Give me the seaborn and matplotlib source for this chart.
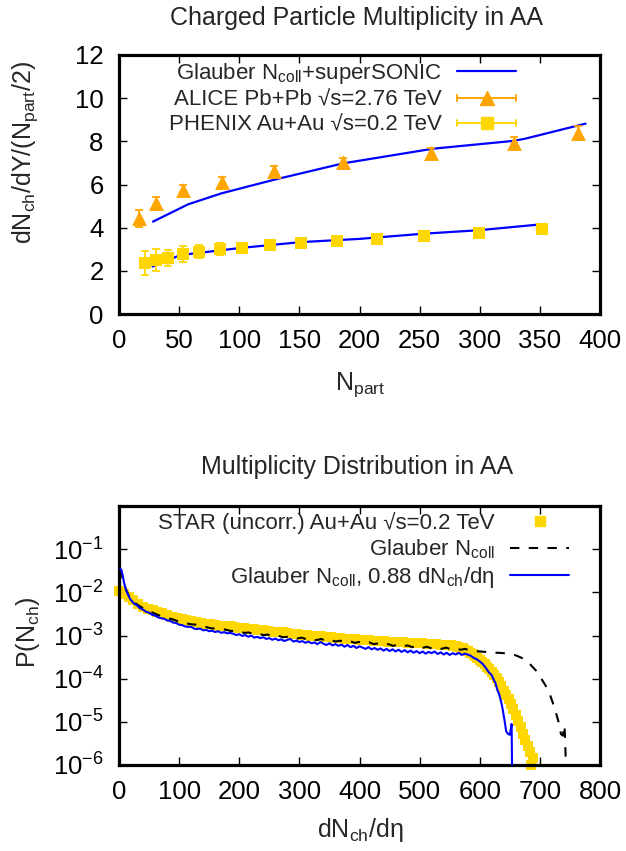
import numpy as np
import matplotlib
matplotlib.use("Agg")
import matplotlib.pyplot as plt
import seaborn as sns
from matplotlib.lines import Line2D
from matplotlib.legend_handler import HandlerBase
from matplotlib.ticker import FixedLocator, NullLocator, LogFormatterMathtext

# ---------------- data: top panel ----------------
ALICE_NPART = [16.4, 30.5, 53.3, 85.7, 128.7, 186.4, 259.4, 328.4, 381.4]
ALICE_Y = [4.43, 5.13, 5.75, 6.13, 6.63, 7.03, 7.44, 7.91, 8.40]
ALICE_ERR = [0.40, 0.30, 0.25, 0.22, 0.22, 0.22, 0.25, 0.28, 0.30]

PHENIX_NPART = [21.9, 31.0, 40.6, 53.0, 66.7, 84.0, 102.7, 125.5, 151.3, 181.0, 214.2, 253.5, 299.0, 351.5]
PHENIX_Y = [2.36, 2.50, 2.60, 2.76, 2.89, 3.00, 3.07, 3.19, 3.27, 3.39, 3.49, 3.61, 3.77, 3.92]
PHENIX_ERR = [0.54, 0.50, 0.38, 0.37, 0.30, 0.27, 0.22, 0.20, 0.20, 0.20, 0.20, 0.20, 0.20, 0.20]

MODEL_LHC_NPART = [28.3, 57.4, 85.2, 128.2, 186.4, 261.3, 327.9, 337.6, 388.0]
MODEL_LHC_Y = [4.28, 5.08, 5.59, 6.21, 6.98, 7.66, 8.02, 8.12, 8.82]

MODEL_RHIC_NPART = [28.0, 51.0, 101.0, 151.0, 200.0, 253.0, 299.0, 354.0]
MODEL_RHIC_Y = [2.20, 2.73, 3.06, 3.33, 3.48, 3.72, 3.88, 4.17]

# ---------------- data: bottom panel (log10 of P) ----------------
STAR_X = [0, 8, 16, 24, 32, 40, 48, 56, 64, 72, 80, 88, 96, 104, 112, 120, 128, 136, 144,
          152, 160, 168, 176, 184, 192, 200, 208, 216, 224, 232, 240, 248, 256, 264, 272,
          280, 288, 296, 304, 312, 320, 328, 336, 344, 352, 360, 368, 376, 384, 392, 400,
          408, 416, 424, 432, 440, 448, 456, 464, 472, 480, 488, 496, 504, 512, 520, 528,
          536, 544, 552, 556, 560, 564, 568, 572, 576, 580, 584, 588, 592, 596, 600, 604,
          608, 612, 616, 620, 624, 628, 632, 636, 640, 644, 648, 652, 656, 660, 664, 668,
          672, 676, 680, 684, 688, 686]
STAR_LOGP = [-1.98, -2.05, -2.10, -2.18, -2.26, -2.33, -2.38, -2.42, -2.46, -2.49, -2.52,
             -2.56, -2.59, -2.62, -2.65, -2.67, -2.69, -2.71, -2.73, -2.74, -2.75, -2.77,
             -2.78, -2.79, -2.81, -2.82, -2.83, -2.85, -2.86, -2.87, -2.88, -2.89, -2.91,
             -2.92, -2.93, -2.95, -2.96, -2.97, -2.98, -2.99, -3.00, -3.01, -3.02, -3.03,
             -3.04, -3.05, -3.06, -3.07, -3.08, -3.09, -3.10, -3.11, -3.11, -3.12, -3.13,
             -3.13, -3.14, -3.15, -3.15, -3.16, -3.17, -3.17, -3.18, -3.18, -3.19, -3.19,
             -3.20, -3.21, -3.22, -3.23, -3.24, -3.25, -3.26, -3.28, -3.30, -3.33, -3.36,
             -3.40, -3.43, -3.47, -3.51, -3.56, -3.61, -3.66, -3.72, -3.78, -3.84, -3.91,
             -3.99, -4.08, -4.18, -4.28, -4.38, -4.48, -4.59, -4.71, -4.84, -4.98, -5.13,
             -5.28, -5.42, -5.55, -5.69, -5.84, -6.00]

GLAUBER_X = [2, 5, 8, 12, 16, 20, 26, 32, 40, 48, 56, 64, 72, 80, 88, 96, 104, 112, 120, 128,
             136, 144, 152, 160, 168, 176, 184, 192, 200, 208, 216, 224, 232, 240, 248, 256,
             264, 272, 280, 288, 296, 304, 312, 320, 328, 336, 344, 352, 360, 368, 376, 384,
             392, 400, 408, 416, 424, 432, 440, 448, 456, 464, 472, 480, 488, 496, 504, 512,
             520, 528, 536, 544, 552, 560, 568, 576, 584, 592, 600, 610, 620, 630, 640, 650,
             660, 670, 678, 686, 694, 700, 706, 712, 718, 724, 728, 732, 735, 738, 741, 743]
GLAUBER_LOGP = [-1.47, -1.62, -1.78, -1.95, -2.07, -2.16, -2.24, -2.30, -2.37, -2.43, -2.47,
                -2.52, -2.56, -2.60, -2.62, -2.66, -2.69, -2.72, -2.74, -2.75, -2.79, -2.80,
                -2.83, -2.84, -2.86, -2.86, -2.89, -2.90, -2.90, -2.94, -2.93, -2.97, -2.96,
                -2.99, -2.98, -3.02, -3.00, -3.04, -3.03, -3.02, -3.07, -3.05, -3.09, -3.07,
                -3.11, -3.08, -3.12, -3.10, -3.14, -3.12, -3.15, -3.13, -3.17, -3.15, -3.19,
                -3.16, -3.20, -3.18, -3.22, -3.20, -3.24, -3.21, -3.25, -3.23, -3.27, -3.24,
                -3.29, -3.26, -3.30, -3.27, -3.31, -3.28, -3.32, -3.30, -3.33, -3.31, -3.35,
                -3.36, -3.37, -3.38, -3.40, -3.40, -3.41, -3.43, -3.46, -3.52, -3.58, -3.70,
                -3.82, -3.95, -4.08, -4.22, -4.42, -4.66, -4.85, -5.05, -5.28, -5.32, -5.08,
                -5.85]

SCALED_X = [2, 4, 6, 8, 10, 12, 14, 16, 18, 20, 25, 30, 35, 40, 45, 50, 55, 60, 65, 70, 75,
            80, 85, 90, 95, 100, 105, 110, 115, 120, 125, 130, 135, 140, 145, 150, 155, 160,
            165, 170, 175, 180, 185, 190, 195, 200, 205, 210, 215, 220, 225, 230, 235, 240,
            245, 250, 255, 260, 265, 270, 275, 280, 285, 290, 295, 300, 305, 310, 315, 320,
            325, 330, 335, 340, 345, 350, 355, 360, 365, 370, 375, 380, 385, 390, 395, 400,
            405, 410, 415, 420, 425, 430, 435, 440, 445, 450, 455, 460, 465, 470, 475, 480,
            485, 490, 495, 500, 505, 510, 515, 520, 525, 530, 535, 540, 545, 550, 555, 560,
            565, 570, 575, 580, 585, 590, 595, 600, 605, 610, 615, 620, 623, 626, 629, 632,
            635, 638, 641, 644, 647, 650, 653, 654]
SCALED_LOGP = [-1.45, -1.48, -1.60, -1.75, -1.86, -1.95, -2.02, -2.08, -2.14, -2.18, -2.26,
               -2.30, -2.37, -2.40, -2.45, -2.47, -2.52, -2.54, -2.58, -2.60, -2.61, -2.65,
               -2.66, -2.70, -2.71, -2.75, -2.76, -2.79, -2.80, -2.80, -2.84, -2.85, -2.84,
               -2.88, -2.87, -2.90, -2.89, -2.92, -2.90, -2.94, -2.92, -2.95, -2.94, -2.96,
               -2.99, -2.97, -3.01, -2.99, -3.03, -3.00, -3.05, -3.03, -3.06, -3.04, -3.08,
               -3.06, -3.10, -3.07, -3.11, -3.09, -3.13, -3.10, -3.08, -3.14, -3.12, -3.15,
               -3.13, -3.17, -3.14, -3.18, -3.16, -3.20, -3.15, -3.19, -3.22, -3.18, -3.23,
               -3.20, -3.24, -3.21, -3.26, -3.22, -3.27, -3.24, -3.29, -3.25, -3.28, -3.31,
               -3.27, -3.32, -3.29, -3.33, -3.30, -3.35, -3.31, -3.36, -3.32, -3.37, -3.33,
               -3.38, -3.34, -3.39, -3.35, -3.40, -3.36, -3.41, -3.37, -3.42, -3.38, -3.41,
               -3.37, -3.43, -3.39, -3.44, -3.40, -3.45, -3.41, -3.44, -3.40, -3.45, -3.42,
               -3.44, -3.47, -3.52, -3.55, -3.60, -3.66, -3.75, -3.85, -3.92, -4.02, -4.10,
               -4.25, -4.35, -4.50, -4.70, -4.95, -5.22, -5.28, -5.30, -5.05, -6.50]

# ---------------- styling ----------------
BLUE = "#0000ff"
ORANGE = "#ffa500"
GOLD = "#ffd700"

sns.set_style("ticks")
plt.rcParams["font.family"] = ["Liberation Sans", "DejaVu Sans"]
plt.rcParams["mathtext.fontset"] = "custom"
plt.rcParams["mathtext.rm"] = "Liberation Sans"
plt.rcParams["mathtext.it"] = "Liberation Sans:italic"
plt.rcParams["mathtext.bf"] = "Liberation Sans:bold"
plt.rcParams["axes.unicode_minus"] = True

W, H = 626, 851
fig = plt.figure(figsize=(W / 100, H / 100), dpi=100)
ax1 = fig.add_axes([119 / W, 1 - 314 / H, 481 / W, 259 / H])
ax2 = fig.add_axes([119 / W, 1 - 765 / H, 481 / W, 259 / H])

TICK_FS = 18.5
LEG_FS = 16
LAB_FS = 18


class ErrProxy:
    def __init__(self, color, marker, ms):
        self.color = color
        self.marker = marker
        self.ms = ms


class GnuErrHandler(HandlerBase):
    def create_artists(self, legend, orig_handle, xdescent, ydescent, width, height,
                       fontsize, trans):
        y = height / 2 - ydescent
        x0, x1 = -xdescent, width - xdescent
        c = orig_handle.color
        arts = [
            Line2D([x0, x1], [y, y], color=c, lw=1.4),
            Line2D([x0, x0], [y - 2.0, y + 2.0], color=c, lw=1.4),
            Line2D([x1, x1], [y - 2.0, y + 2.0], color=c, lw=1.4),
            Line2D([(x0 + x1) / 2], [y], marker=orig_handle.marker, ms=orig_handle.ms,
                   color=c, mec=c, ls="none"),
        ]
        for a in arts:
            a.set_transform(trans)
        return arts


# ---------------- top panel ----------------
sns.lineplot(x=MODEL_LHC_NPART, y=MODEL_LHC_Y, ax=ax1, color=BLUE, lw=1.6,
             sort=False, estimator=None, legend=False)
sns.lineplot(x=MODEL_RHIC_NPART, y=MODEL_RHIC_Y, ax=ax1, color=BLUE, lw=1.6,
             sort=False, estimator=None, legend=False)
ax1.errorbar(ALICE_NPART, ALICE_Y, yerr=ALICE_ERR, fmt="none", ecolor=ORANGE,
             elinewidth=1.3, capsize=3, capthick=1.3, zorder=3)
ax1.errorbar(PHENIX_NPART, PHENIX_Y, yerr=PHENIX_ERR, fmt="none", ecolor=GOLD,
             elinewidth=1.3, capsize=3, capthick=1.3, zorder=3)
sns.scatterplot(x=ALICE_NPART, y=ALICE_Y, ax=ax1, marker="^", s=115, color=ORANGE,
                linewidth=0, zorder=4, legend=False)
sns.scatterplot(x=PHENIX_NPART, y=PHENIX_Y, ax=ax1, marker="s", s=85, color=GOLD,
                linewidth=0, zorder=4, legend=False)

ax1.set_xlim(0, 400)
ax1.set_ylim(0, 12)
ax1.xaxis.set_major_locator(FixedLocator(list(range(0, 401, 50))))
ax1.yaxis.set_major_locator(FixedLocator(list(range(0, 13, 2))))

h_top = [Line2D([], [], color=BLUE, lw=1.6),
         ErrProxy(ORANGE, "^", 10.5),
         ErrProxy(GOLD, "s", 9.2)]
l_top = ["Glauber N$_{\\rm coll}$+superSONIC",
         "ALICE Pb+Pb \u221as=2.76 TeV",
         "PHENIX Au+Au \u221as=0.2 TeV"]
ax1.legend(h_top, l_top, handler_map={ErrProxy: GnuErrHandler()}, loc="upper right",
           bbox_to_anchor=(516 / W, 1 - 61 / H), bbox_transform=fig.transFigure,
           frameon=False, borderpad=0, borderaxespad=0, markerfirst=False,
           handlelength=2.65, handletextpad=0.68, labelspacing=0.17,
           fontsize=LEG_FS, numpoints=1)

# ---------------- bottom panel ----------------
sns.scatterplot(x=STAR_X, y=np.power(10.0, STAR_LOGP), ax=ax2, marker="s", s=56,
                color=GOLD, linewidth=0, zorder=2, legend=False, clip_on=False)
sns.lineplot(x=GLAUBER_X, y=np.power(10.0, GLAUBER_LOGP), ax=ax2, color="black",
             lw=1.5, ls=(0, (4.5, 4.5)), sort=False, estimator=None, legend=False,
             zorder=3)
sns.lineplot(x=SCALED_X, y=np.power(10.0, SCALED_LOGP), ax=ax2, color=BLUE, lw=1.5,
             sort=False, estimator=None, legend=False, zorder=4)

ax2.set_yscale("log")
ax2.set_xlim(0, 800)
ax2.set_ylim(1e-6, 1)
ax2.xaxis.set_major_locator(FixedLocator(list(range(0, 801, 100))))
ax2.yaxis.set_major_locator(FixedLocator([1e-6, 1e-5, 1e-4, 1e-3, 1e-2, 1e-1]))
ax2.yaxis.set_major_formatter(LogFormatterMathtext())
ax2.yaxis.set_minor_locator(NullLocator())

h_bot = [Line2D([], [], color=GOLD, marker="s", ms=7, ls="none", mec=GOLD),
         Line2D([], [], color="black", lw=1.5, ls=(0, (4.5, 4.5))),
         Line2D([], [], color=BLUE, lw=1.5)]
l_bot = ["STAR (uncorr.) Au+Au \u221as=0.2 TeV",
         "Glauber N$_{\\rm coll}$",
         "Glauber N$_{\\rm coll}$, 0.88 dN$_{\\rm ch}$/d\u03b7"]
ax2.legend(h_bot, l_bot, loc="upper right",
           bbox_to_anchor=(569 / W, 1 - 512 / H), bbox_transform=fig.transFigure,
           frameon=False, borderpad=0, borderaxespad=0, markerfirst=False,
           handlelength=2.65, handletextpad=0.68, labelspacing=0.17,
           fontsize=LEG_FS, numpoints=1)

# ---------------- common axis styling ----------------
for ax in (ax1, ax2):
    ax.tick_params(which="both", direction="in", length=5.5, width=1.0, top=True,
                   right=True, labelsize=TICK_FS, pad=11, colors="black")
    for sp in ax.spines.values():
        sp.set_linewidth(2.3)
        sp.set_color("black")
    ax.set_xlabel("")
    ax.set_ylabel("")

# titles and axis labels
fig.text(357 / W, 1 - 18 / H, "Charged Particle Multiplicity in AA", ha="center",
         va="center", fontsize=LAB_FS)
fig.text(357 / W, 1 - 467 / H, "Multiplicity Distribution in AA", ha="center",
         va="center", fontsize=LAB_FS)
fig.text(360 / W, 1 - 385 / H, "N$_{\\rm part}$", ha="center", va="center",
         fontsize=LAB_FS)
fig.text(360 / W, 1 - 830 / H, "dN$_{\\rm ch}$/d\u03b7", ha="center", va="center",
         fontsize=LAB_FS)
fig.text(25 / W, 1 - 152 / H, "dN$_{\\rm ch}$/dY/(N$_{\\rm part}$/2)", ha="center",
         va="center", rotation=90, fontsize=LAB_FS)
fig.text(28 / W, 1 - 632 / H, "P(N$_{\\rm ch}$)", ha="center", va="center",
         rotation=90, fontsize=LAB_FS)

fig.savefig("out.png", dpi=100)
